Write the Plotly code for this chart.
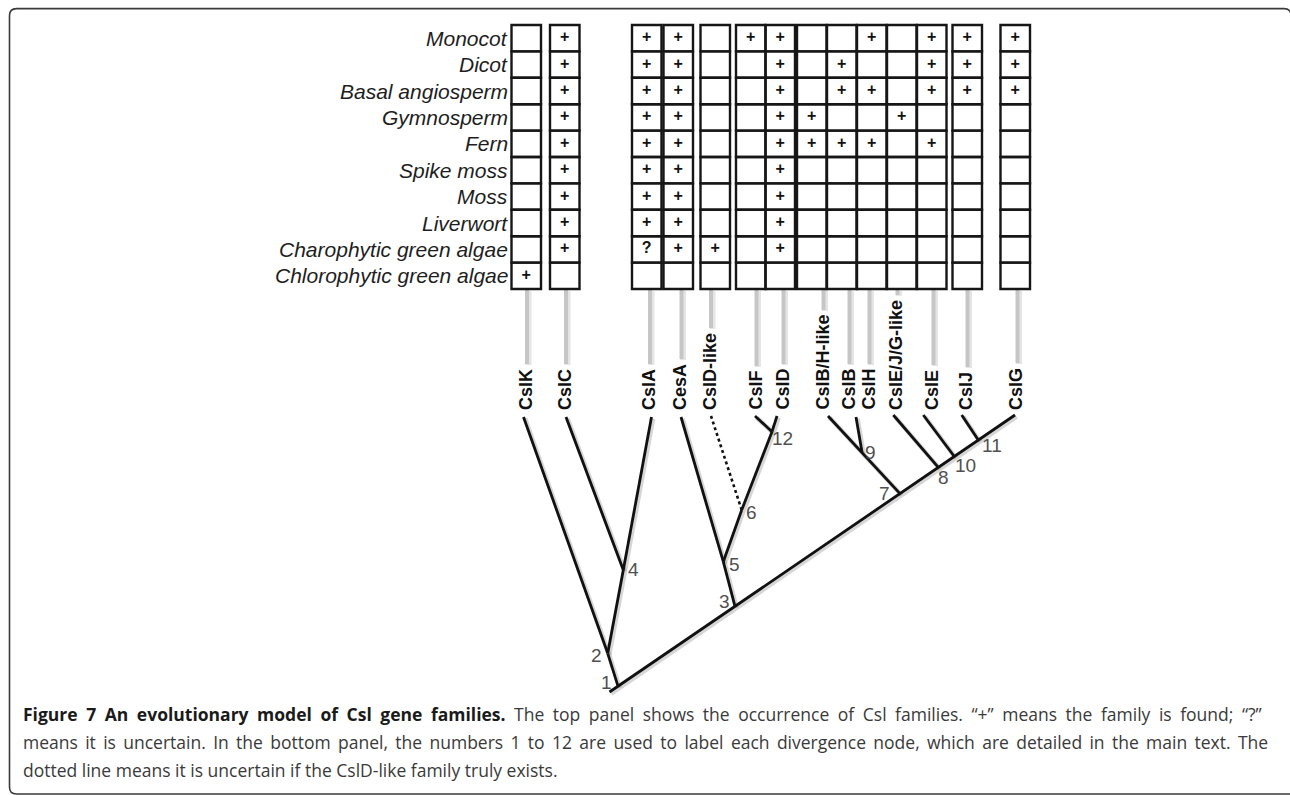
import plotly.graph_objects as go

# ---------------- data ----------------
taxa = ["Monocot", "Dicot", "Basal angiosperm", "Gymnosperm", "Fern",
        "Spike moss", "Moss", "Liverwort", "Charophytic green algae",
        "Chlorophytic green algae"]

families = ["CslK", "CslC", "CslA", "CesA", "CslD-like", "CslF", "CslD",
            "CslB/H-like", "CslB", "CslH", "CslE/J/G-like", "CslE", "CslJ", "CslG"]

# occurrence per family, rows ordered as `taxa` ("+" found, "?" uncertain, "" absent)
occ_cslk = ["", "", "", "", "", "", "", "", "", "+"]
occ_cslc = ["+", "+", "+", "+", "+", "+", "+", "+", "+", ""]
occ_csla = ["+", "+", "+", "+", "+", "+", "+", "+", "?", ""]
occ_cesa = ["+", "+", "+", "+", "+", "+", "+", "+", "+", ""]
occ_csld_like = ["", "", "", "", "", "", "", "", "+", ""]
occ_cslf = ["+", "", "", "", "", "", "", "", "", ""]
occ_csld = ["+", "+", "+", "+", "+", "+", "+", "+", "+", ""]
occ_cslbh_like = ["", "", "", "+", "+", "", "", "", "", ""]
occ_cslb = ["", "+", "+", "", "+", "", "", "", "", ""]
occ_cslh = ["+", "", "+", "", "+", "", "", "", "", ""]
occ_csl_ejg_like = ["", "", "", "+", "", "", "", "", "", ""]
occ_csle = ["+", "+", "+", "", "+", "", "", "", "", ""]
occ_cslj = ["+", "+", "+", "", "", "", "", "", "", ""]
occ_cslg = ["+", "+", "+", "", "", "", "", "", "", ""]

node_names = ["1", "2", "3", "4", "5", "6", "7", "8", "9", "10", "11", "12"]

caption_bold = "Figure 7 An evolutionary model of Csl gene families."
caption_lines = [
    " The top panel shows the occurrence of Csl families. \u201c+\u201d means the family is found; \u201c?\u201d",
    "means it is uncertain. In the bottom panel, the numbers 1 to 12 are used to label each divergence node, which are detailed in the main text. The",
    "dotted line means it is uncertain if the CslD-like family truly exists.",
]

occurrence = [occ_cslk, occ_cslc, occ_csla, occ_cesa, occ_csld_like, occ_cslf, occ_csld,
              occ_cslbh_like, occ_cslb, occ_cslh, occ_csl_ejg_like, occ_csle, occ_cslj, occ_cslg]

# ---------------- layout (pixel space of the 1290x795 page) ----------------
W, H = 1290, 795
col_left = [511.5, 550, 632, 663.5, 700.5, 736, 765.5, 797, 827, 857, 887, 917, 952.5, 1000.5]
cell_w = 29.5
row_top, row_h = 25.0, 26.4
label_x = [525.5, 564.5, 648.5, 680, 709.5, 755, 782, 822, 848, 868, 896, 932, 966, 1016]
label_bottom = 412
label_font = 18
row_label_right = 510

pts = {
    "root": (609.5, 692), "n1": (618, 686.2), "n2": (607.7, 653.3), "n4": (623.3, 570),
    "n3": (735, 606.3), "n5": (723.3, 561.7), "n6": (741.7, 510), "n12": (772, 431.7),
    "n7": (900, 493.6), "n9": (862, 452), "n8": (938.3, 467.4), "n10": (954.3, 456.5),
    "n11": (978.3, 440.1),
    "CslK": (523.5, 417), "CslC": (566, 417), "CslA": (651.5, 417), "CesA": (681, 417),
    "CslD-like": (711, 416), "CslF": (755, 416), "CslD": (777, 416),
    "CslB/H-like": (828, 416), "CslBH": (856, 417), "CslE/J/G-like": (893.3, 415),
    "CslE": (923.3, 415), "CslJ": (961.7, 415), "CslG": (1015, 415),
}
edges = [("root", "CslG"), ("n1", "n2"), ("n2", "CslK"), ("n2", "n4"), ("n4", "CslC"),
         ("n4", "CslA"), ("n3", "n5"), ("n5", "CesA"), ("n5", "n6"), ("n6", "n12"),
         ("n12", "CslF"), ("n12", "CslD"), ("n7", "CslB/H-like"), ("n9", "CslBH"),
         ("n8", "CslE/J/G-like"), ("n10", "CslE"), ("n11", "CslJ")]
dotted_edges = [("n6", "CslD-like")]
node_label_pos = [(606.5, 682), (596.5, 655), (724.5, 601), (633.5, 569), (734.5, 564),
                  (751, 512), (884, 493), (943.5, 477), (870.5, 452), (965, 465),
                  (991.5, 445), (782.5, 438)]

fig = go.Figure()

# grey connectors from boxes to labels
label_len = []
bold_w = {"C": .722, "s": .556, "l": .278, "K": .722, "A": .722, "e": .556, "D": .722, "-": .333,
          "i": .278, "k": .556, "F": .611, "B": .722, "/": .278, "H": .722, "E": .667,
          "J": .556, "G": .778}
for f in families:
    label_len.append(sum(bold_w.get(c, .6) for c in f) * label_font)
box_bottom = row_top + row_h * len(taxa)
cx, cy, sx, sy = [], [], [], []
for lx, ln in zip(label_x, label_len):
    top = label_bottom - 3 - ln - 4
    if top - box_bottom > 3:
        cx += [lx + 1.5, lx + 1.5, None]
        cy += [box_bottom + 1, top, None]
        sx += [lx + 3, lx + 3, None]
        sy += [box_bottom + 2, top + 1, None]
fig.add_trace(go.Scatter(x=sx, y=sy, mode="lines", line=dict(color="rgba(0,0,0,0.10)", width=6),
                         hoverinfo="skip", showlegend=False))
fig.add_trace(go.Scatter(x=cx, y=cy, mode="lines", line=dict(color="#c6c6c6", width=4),
                         hoverinfo="skip", showlegend=False))

# tree
ex, ey, shx, shy = [], [], [], []
for a, b in edges:
    (x0, y0), (x1, y1) = pts[a], pts[b]
    ex += [x0, x1, None]; ey += [y0, y1, None]
    shx += [x0 + 1.6, x1 + 1.6, None]; shy += [y0 + 1.6, y1 + 1.6, None]
fig.add_trace(go.Scatter(x=shx, y=shy, mode="lines", line=dict(color="rgba(0,0,0,0.16)", width=4.5),
                         hoverinfo="skip", showlegend=False))
fig.add_trace(go.Scatter(x=ex, y=ey, mode="lines", line=dict(color="#111111", width=2.8),
                         hoverinfo="skip", showlegend=False))
dx, dy = [], []
for a, b in dotted_edges:
    (x0, y0), (x1, y1) = pts[a], pts[b]
    dx += [x0, x1, None]; dy += [y0, y1, None]
fig.add_trace(go.Scatter(x=dx, y=dy, mode="lines", line=dict(color="#111111", width=2.6, dash="dot"),
                         hoverinfo="skip", showlegend=False))

# grid cells
shapes = []
for ci, left in enumerate(col_left):
    for ri in range(len(taxa)):
        shapes.append(dict(type="rect", xref="x", yref="y", x0=left, x1=left + cell_w,
                           y0=row_top + ri * row_h, y1=row_top + (ri + 1) * row_h,
                           line=dict(color="#161616", width=2.4), fillcolor="rgba(0,0,0,0)"))

# frame (right and bottom edges run off the page)
fx0, fy0, fy1, r = 9.5, 8.6, 794, 7
fxr = 1284
shapes.append(dict(type="path", xref="x", yref="y",
                   path=f"M 1300,{fy1} L {fx0+r},{fy1} Q {fx0},{fy1} {fx0},{fy1-r} "
                        f"L {fx0},{fy0+r} Q {fx0},{fy0} {fx0+r},{fy0} L {fxr},{fy0} "
                        f"Q {fxr+r},{fy0} {fxr+r},{fy0+r}",
                   line=dict(color="#3a3a3a", width=1.6), fillcolor="rgba(0,0,0,0)"))

# marks in cells
mx, my, mt = [], [], []
for ci, col in enumerate(occurrence):
    for ri, v in enumerate(col):
        if v:
            mx.append(col_left[ci] + cell_w / 2)
            my.append(row_top + (ri + 0.5) * row_h)
            mt.append(v)
fig.add_trace(go.Scatter(x=mx, y=my, mode="text", text=mt,
                         textfont=dict(family="Liberation Sans", size=16, color="#111111", weight="bold"),
                         hoverinfo="skip", showlegend=False))

annotations = []
for ri, t in enumerate(taxa):
    annotations.append(dict(x=row_label_right, y=row_top + (ri + 0.5) * row_h, xref="x", yref="y",
                            text=t, showarrow=False, xanchor="right", yanchor="middle",
                            font=dict(family="Liberation Sans", size=21, color="#1e1e1e", style="italic")))
for f, lx in zip(families, label_x):
    annotations.append(dict(x=lx, y=label_bottom, xref="x", yref="y", text=f, showarrow=False,
                            textangle=-90, xanchor="center", yanchor="bottom",
                            font=dict(family="Liberation Sans", size=label_font, color="#111111", weight="bold")))
for name, (nx, ny) in zip(node_names, node_label_pos):
    annotations.append(dict(x=nx, y=ny, xref="x", yref="y", text=name, showarrow=False,
                            xanchor="center", yanchor="middle",
                            font=dict(family="Liberation Sans", size=19, color="#505050")))

# caption (justified lines get extra word spacing)
cap_y = [714, 742, 770]
cap_ws = [4.0, 2.8, 0]
cap_texts = [
    f"<b><span style='color:#1a1a1a;word-spacing:{cap_ws[0]}px'>{caption_bold}</span></b>"
    f"<span style='word-spacing:{cap_ws[0]}px'>{caption_lines[0]}</span>",
    f"<span style='word-spacing:{cap_ws[1]}px'>{caption_lines[1]}</span>",
    caption_lines[2],
]
for y, t in zip(cap_y, cap_texts):
    annotations.append(dict(x=21, y=y, xref="x", yref="y", text=t, showarrow=False,
                            xanchor="left", yanchor="middle",
                            font=dict(family="Open Sans", size=17.5, color="#3a3a3a")))

fig.update_layout(
    width=W, height=H, margin=dict(l=0, r=0, t=0, b=0),
    paper_bgcolor="white", plot_bgcolor="white",
    xaxis=dict(range=[0, W], visible=False, fixedrange=True),
    yaxis=dict(range=[H, 0], visible=False, fixedrange=True),
    shapes=shapes, annotations=annotations, showlegend=False,
)
fig.write_html("out.html", config={"displayModeBar": False},
               post_script="document.body.style.margin='0';document.body.style.overflow='hidden';")
